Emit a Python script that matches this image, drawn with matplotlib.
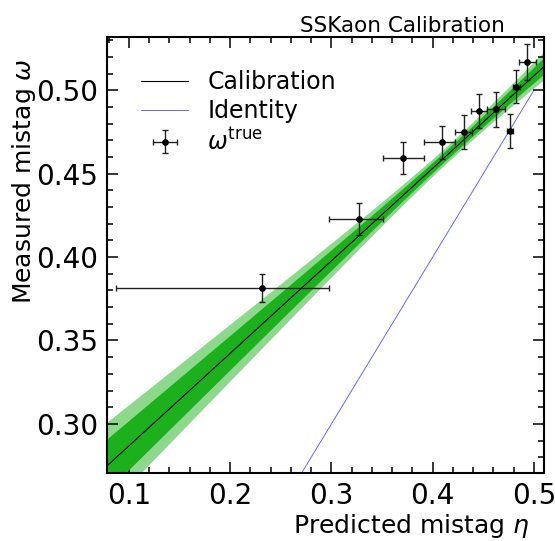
import numpy as np
import matplotlib
matplotlib.use("Agg")
import matplotlib.pyplot as plt
from matplotlib.ticker import MultipleLocator

# ---- data ----
eta = [0.2317, 0.3269, 0.3710, 0.4095, 0.4309, 0.4457, 0.4622, 0.4763, 0.4826, 0.4934]
omega = [0.3817, 0.4229, 0.4593, 0.4688, 0.4748, 0.4876, 0.4886, 0.4754, 0.5022, 0.5168]
eta_err_lo = [0.1448, 0.0293, 0.0203, 0.0178, 0.0089, 0.0076, 0.0089, 0.0030, 0.0036, 0.0079]
eta_err_hi = [0.0662, 0.0243, 0.0207, 0.0122, 0.0082, 0.0076, 0.0092, 0.0033, 0.0037, 0.0086]
omega_err = [0.0084, 0.0097, 0.0098, 0.0100, 0.0101, 0.0100, 0.0105, 0.0102, 0.0100, 0.0108]

# calibration parameters: omega = p0 + p1 * (eta - eta_mean)
eta_mean = 0.42
p0 = 0.4643
p1 = 0.5546
# inner band
s0_in, s1_in = 0.0030, 0.045
# outer band
s0_out, s1_out = 0.0050, 0.074

xlim = (0.0786, 0.5099)
ylim = (0.2704, 0.5321)
xtick_vals = [0.1, 0.2, 0.3, 0.4, 0.5]
xtick_labels = ['0.1', '0.2', '0.3', '0.4', '0.5']
ytick_vals = [0.30, 0.35, 0.40, 0.45, 0.50]
ytick_labels = ['0.30', '0.35', '0.40', '0.45', '0.50']

fig = plt.figure(figsize=(5.55, 5.41), dpi=100)
ax = fig.add_axes([0.1933, 0.1252, 0.7868, 0.8070])

x = np.linspace(0.0, 0.6, 400)
cal = p0 + p1 * (x - eta_mean)
sig_in = np.sqrt(s0_in**2 + (x - eta_mean)**2 * s1_in**2)
sig_out = np.sqrt(s0_out**2 + (x - eta_mean)**2 * s1_out**2)

ax.fill_between(x, cal - sig_out, cal + sig_out, color='#8ED88E', lw=0, zorder=1)
ax.fill_between(x, cal - sig_in, cal + sig_in, color='#1DB01D', lw=0, zorder=2)
ax.plot(x, cal, color='black', lw=0.8, zorder=3, label='Calibration')

xi = np.array([0.0, 0.5])
ax.plot(xi, xi, color='blue', alpha=0.6, lw=0.7, zorder=3, label='Identity')

ax.errorbar(eta, omega, xerr=[eta_err_lo, eta_err_hi], yerr=omega_err,
            fmt='o', color='black', ms=3.8, ecolor='#222222', elinewidth=1.0,
            capsize=2.5, capthick=1.0, zorder=4, label=r'$\omega^{\rm true}$')

ax.set_xlim(*xlim)
ax.set_ylim(*ylim)

ax.xaxis.set_minor_locator(MultipleLocator(0.02))
ax.yaxis.set_minor_locator(MultipleLocator(0.01))
ax.set_xticks(xtick_vals)
ax.set_xticklabels(xtick_labels)
ax.set_yticks(ytick_vals)
ax.set_yticklabels(ytick_labels)

ax.tick_params(which='both', direction='in', top=True, right=True, width=1.1)
ax.tick_params(which='major', length=8, labelsize=20, pad=6.5)
ax.tick_params(which='minor', length=4.3)
for sp in ax.spines.values():
    sp.set_linewidth(1.5)

ax.set_xlabel(r'Predicted mistag $\eta$', fontsize=18, ha='right')
ax.xaxis.set_label_coords(0.968, -0.0886)
ax.set_ylabel(r'Measured mistag $\omega$', fontsize=18, ha='right')
ax.yaxis.set_label_coords(-0.159, 0.951)

ax.text(0.911, 1.0114, 'SSKaon Calibration', transform=ax.transAxes,
        ha='right', va='baseline', fontsize=15.5)

ax.legend(loc='upper left', bbox_to_anchor=(0.056, 0.945), borderaxespad=0,
          frameon=False, fontsize=17, handlelength=2.0, handletextpad=0.8,
          labelspacing=0.22)

fig.savefig('out.png', dpi=100)
